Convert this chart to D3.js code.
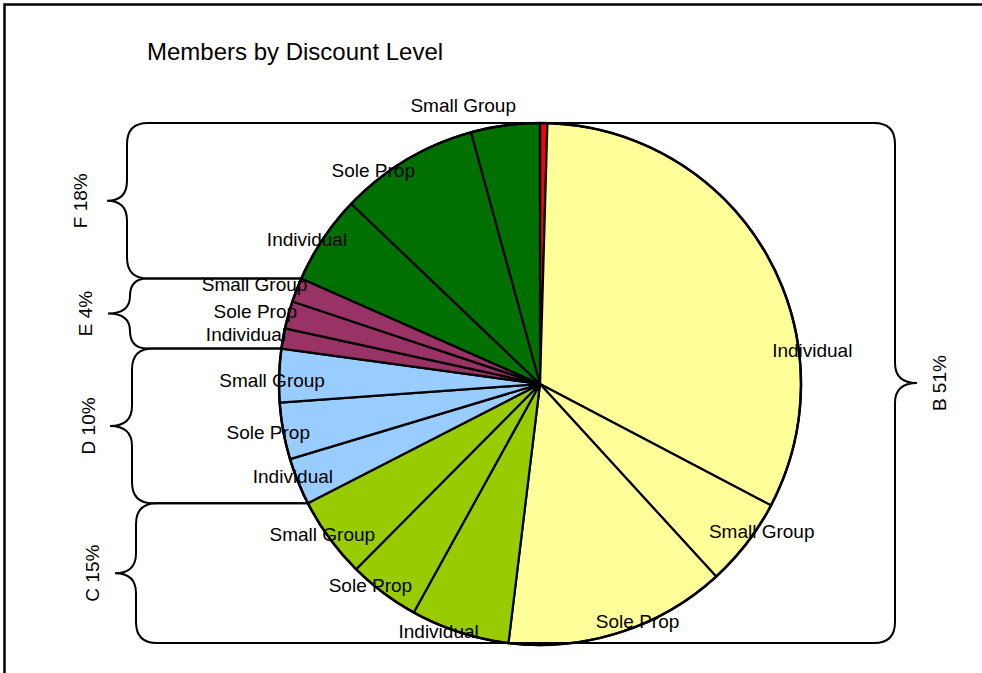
<!DOCTYPE html>
<html><head><meta charset="utf-8">
<script src="https://cdn.jsdelivr.net/npm/d3@7"></script>
<style>
body{margin:0;background:#fff}
svg{display:block}
text{font-family:Arial,"Liberation Sans",sans-serif;fill:#000}
</style>
</head><body>
<svg id="c" width="982" height="673"></svg>
<script>
// ---- data ----
const chartTitle = "Members by Discount Level";
const groupNames  = ["A", "B", "C", "D", "E", "F"];
const groupLabels = ["", "B 51%", "C 15%", "D 10%", "E 4%", "F 18%"];
const sliceGroups = ["A","B","B","B","C","C","C","D","D","D","E","E","E","F","F","F"];
const sliceNames  = ["", "Individual","Small Group","Sole Prop",
                     "Individual","Sole Prop","Small Group",
                     "Individual","Sole Prop","Small Group",
                     "Individual","Sole Prop","Small Group",
                     "Individual","Sole Prop","Small Group"];
const sliceValues = [0.45, 32.2, 5.5, 13.7, 6.1, 4.4, 5.0, 2.9, 3.5, 3.3, 1.25, 1.7, 1.5, 5.5, 8.6, 4.25];

// ---- style ----
const groupColors = {A:"#ff0000", B:"#ffff99", C:"#99cc00", D:"#99ccff", E:"#993366", F:"#007000"};
// label offsets from the rim point at each slice's mid angle (Excel "best fit" placement)
const labelNudge = [[0,0],[47,98],[15,-12],[18,-11],[-21,-1],[-13,-7],[-7,-4],
                    [-5,-5],[-15,1],[-7,5],[-37,-4],[-33,-3],[-42,-5],[-16,1],[-33,11],[-42,-20]];
const braceX = {B:[895,917,939], C:[136,115,92], D:[132,110,88], E:[130,108,85], F:[127,107,80]};

const svg = d3.select("#c");
const cx = 540, cy = 384, R = 261;

// frame
svg.append("rect").attr("x",4.5).attr("y",4.5).attr("width",1000).attr("height",1000)
  .attr("fill","none").attr("stroke","#000").attr("stroke-width",2.5);

// title
svg.append("text").attr("x",147).attr("y",60).attr("font-size",24).text(chartTitle);

const pie = d3.pie().sort(null).value(d => d)(sliceValues);
const arc = d3.arc().innerRadius(0).outerRadius(R);
const rim = a => [cx + R*Math.sin(a), cy - R*Math.cos(a)];

const g = svg.append("g").attr("transform",`translate(${cx},${cy})`);
g.selectAll("path.slice").data(pie).join("path").attr("class","slice")
  .attr("d",arc)
  .attr("fill",(d,i)=>groupColors[sliceGroups[i]])
  .attr("stroke","#000").attr("stroke-width",2.2).attr("stroke-linejoin","round");
g.append("circle").attr("r",R).attr("fill","none").attr("stroke","#000").attr("stroke-width",2.5);

// braces
const braceG = svg.append("g").attr("fill","none").attr("stroke","#000").attr("stroke-width",2);
groupNames.forEach((gn,gi) => {
  if (!groupLabels[gi]) return;
  const idx = sliceGroups.map((s,i)=>s===gn?i:-1).filter(i=>i>=0);
  const a0 = pie[idx[0]].startAngle, a1 = pie[idx[idx.length-1]].endAngle;
  const p0 = rim(a0), p1 = rim(a1);
  const top = p0[1] < p1[1] ? p0 : p1, bot = p0[1] < p1[1] ? p1 : p0;
  const right = gn === "B";
  const s = right ? 1 : -1;
  const [bx, tx, lx] = braceX[gn];
  const y0 = top[1], y1 = bot[1], ym = (y0+y1)/2;
  const r = Math.min(21,(y1-y0)/4), h = Math.min(20,(y1-y0)/4);
  const path = `M${top[0]},${y0} H${bx - s*r} Q${bx},${y0} ${bx},${y0+r} V${ym-h} Q${bx},${ym} ${tx},${ym}` +
               ` Q${bx},${ym} ${bx},${ym+h} V${y1-r} Q${bx},${y1} ${bx - s*r},${y1} H${bot[0]}`;
  braceG.append("path").attr("d",path);
  svg.append("text").attr("transform",`translate(${lx},${ym}) rotate(-90)`)
    .attr("text-anchor","middle").attr("dominant-baseline","central")
    .attr("font-size",19).text(groupLabels[gi]);
});

// slice labels
svg.append("g").selectAll("text").data(pie).join("text")
  .attr("x",(d,i)=>rim((d.startAngle+d.endAngle)/2)[0] + labelNudge[i][0])
  .attr("y",(d,i)=>rim((d.startAngle+d.endAngle)/2)[1] + labelNudge[i][1])
  .attr("text-anchor","middle").attr("dominant-baseline","central")
  .attr("font-size",19).text((d,i)=>sliceNames[i]);
</script>
</body></html>
